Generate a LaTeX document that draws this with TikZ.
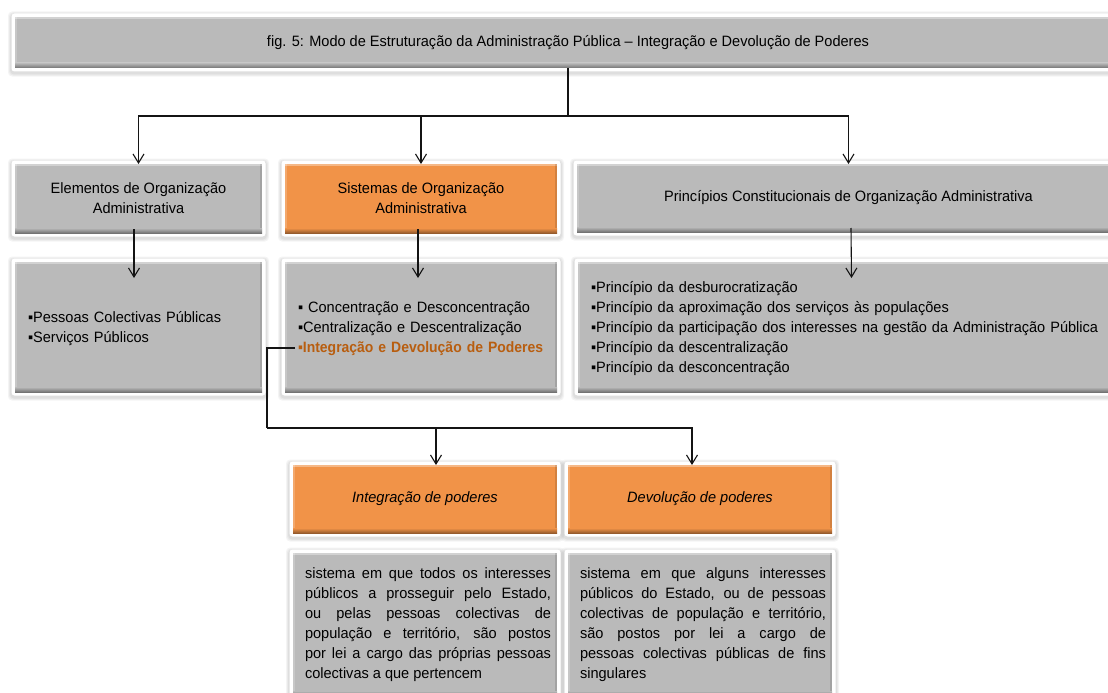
\documentclass[tikz,border=0pt]{standalone}
\usepackage{fontspec}
\setmainfont{Liberation Sans}[FakeStretch=0.97, BoldFeatures={FakeStretch=0.93}]
\usetikzlibrary{arrows.meta,backgrounds}
\definecolor{boxgray}{RGB}{186,186,186}
\definecolor{boxorange}{RGB}{241,147,72}
\definecolor{hiorange}{RGB}{184,94,16}
\definecolor{linecol}{RGB}{20,20,20}

\begin{document}
\begin{tikzpicture}[x=1pt,y=-1pt,
  bevel/.style={fill=#1, path picture={
      \fill[white,opacity=0.35] (path picture bounding box.north west) rectangle ([yshift=-2pt]path picture bounding box.north east);
      \fill[white,opacity=0.2] (path picture bounding box.north west) rectangle ([xshift=2pt]path picture bounding box.south west);
      \fill[black,opacity=0.12] (path picture bounding box.north east) rectangle ([xshift=-2pt]path picture bounding box.south east);
      \shade[top color=#1, bottom color=#1!62!black] ([yshift=5pt]path picture bounding box.south west) rectangle (path picture bounding box.south east);
    }},
  box/.style={anchor=north west, inner sep=0pt, outer sep=0pt, text=black,
    font=\fontsize{15}{20}\selectfont},
  conn/.style={draw=linecol, line width=1.1pt},
  arr/.style={conn, -{Straight Barb[length=9pt,width=11pt,line width=1.1pt]}},
]
\useasboundingbox (0,0) rectangle (1108,693);

% title bar
\node[box, bevel=boxgray, minimum width=1106pt, minimum height=51pt] (T) at (15,17)
  {fig. 5: Modo de Estruturação da Administração Pública – Integração e Devolução de Poderes};

% second row: the three headings
\node[box, bevel=boxgray, minimum width=247pt, minimum height=69pt, align=center] (A) at (15,164)
  {Elementos de Organização\\Administrativa};
\node[box, bevel=boxorange, minimum width=272pt, minimum height=69pt, align=center] (B) at (285,164)
  {Sistemas de Organização\\Administrativa};
\node[box, bevel=boxgray, minimum width=543pt, minimum height=68pt] (C) at (577,164)
  {Princípios Constitucionais de Organização Administrativa};

% third row: bullet lists
\node[box, bevel=boxgray, minimum height=130pt, inner xsep=13pt, text width=221pt, align=left] (D) at (15,262)
  {\rule{0pt}{15pt}▪Pessoas Colectivas Públicas\\▪Serviços Públicos};
\node[box, bevel=boxgray, minimum height=130pt, inner xsep=13pt, text width=246pt, align=left] (E) at (285,262)
  {\rule{0pt}{15pt}▪ Concentração e Desconcentração\\▪Centralização e Descentralização\\\mbox{\color{hiorange}\bfseries ▪Integração e Devolução de Poderes}};
\node[box, bevel=boxgray, minimum height=130pt, inner xsep=13pt, text width=516pt, align=left] (F) at (578,262)
  {\rule{0pt}{15pt}▪Princípio da desburocratização\\
   ▪Princípio da aproximação dos serviços às populações\\
   \mbox{▪Princípio da participação dos interesses na gestão da Administração Pública}\\
   ▪Princípio da descentralização\\
   ▪Princípio da desconcentração};

% fourth row: the two systems
\node[box, bevel=boxorange, minimum width=264pt, minimum height=68pt, font=\fontsize{15}{20}\selectfont\itshape] (G) at (293,465)
  {Integração de poderes};
\node[box, bevel=boxorange, minimum width=264pt, minimum height=68pt, font=\fontsize{15}{20}\selectfont\itshape] (H) at (568,465)
  {Devolução de poderes};

% fifth row: definitions
\node[box, bevel=boxgray, minimum width=264pt, minimum height=143pt] (G2) at (293,553)
  {\hspace*{12pt}\parbox{246pt}{\tolerance=10000\hyphenpenalty=10000
   sistema em que todos os interesses\linebreak
   públicos a prosseguir pelo Estado,\linebreak
   ou pelas pessoas colectivas de\linebreak
   população e território, são postos\linebreak
   por lei a cargo das próprias pessoas\linebreak
   colectivas a que pertencem}\hspace*{6pt}};
\node[box, bevel=boxgray, minimum width=264pt, minimum height=143pt] (H2) at (568,553)
  {\hspace*{12pt}\parbox{246pt}{\tolerance=10000\hyphenpenalty=10000
   sistema em que alguns interesses\linebreak
   públicos do Estado, ou de pessoas\linebreak
   colectivas de população e território,\linebreak
   são postos por lei a cargo de\linebreak
   pessoas colectivas públicas de fins\linebreak
   singulares}\hspace*{6pt}};

% white frames with a soft halo, behind the boxes
\begin{scope}[on background layer]
  \fill[white] (0,0) rectangle (1108,693);
  \foreach \bx in {T,A,B,C,D,E,F,G,H,G2,H2}{
    \foreach \ee in {7,6,5}{
      \fill[black, opacity=0.045, rounded corners=4pt]
        ([shift={(-\ee,-\ee+1.5)}]\bx.north west) rectangle ([shift={(\ee,\ee+1.5)}]\bx.south east);
    }
  }
  \foreach \bx in {T,A,B,C,D,E,F,G,H,G2,H2}{
    \fill[white, rounded corners=3pt]
      ([shift={(-3.5,-3.5)}]\bx.north west) rectangle ([shift={(3.5,3.5)}]\bx.south east);
  }
\end{scope}

% connectors from the title to the headings
\coordinate (j1) at (568,116);
\draw[conn] (T.south) -- (j1);
\draw[arr] (j1) -| (A.north);
\draw[arr] (j1) -| (B.north);
\draw[arr] (j1) -| (C.north);

% headings to their lists
\draw[arr] ([shift={(-4.5,-4)}]A.south) -- ([shift={(-4.5,16)}]D.north);
\draw[arr] ([shift={(-3,-4)}]B.south) -- ([shift={(-3,16)}]E.north);
\draw[arr] ([shift={(2.5,-4)}]C.south) -- ([shift={(2.5,16)}]F.north);

% from the highlighted item down to the two systems
\coordinate (e1) at (295,348);
\coordinate (e2) at (267,428);
\coordinate (g1) at (436,428);
\draw[conn] (e1) -| (e2);
\draw[arr] (e2) -| ([xshift=-8pt]H.north);
\draw[arr] (g1) -- (g1 |- G.north);
\end{tikzpicture}
\end{document}
